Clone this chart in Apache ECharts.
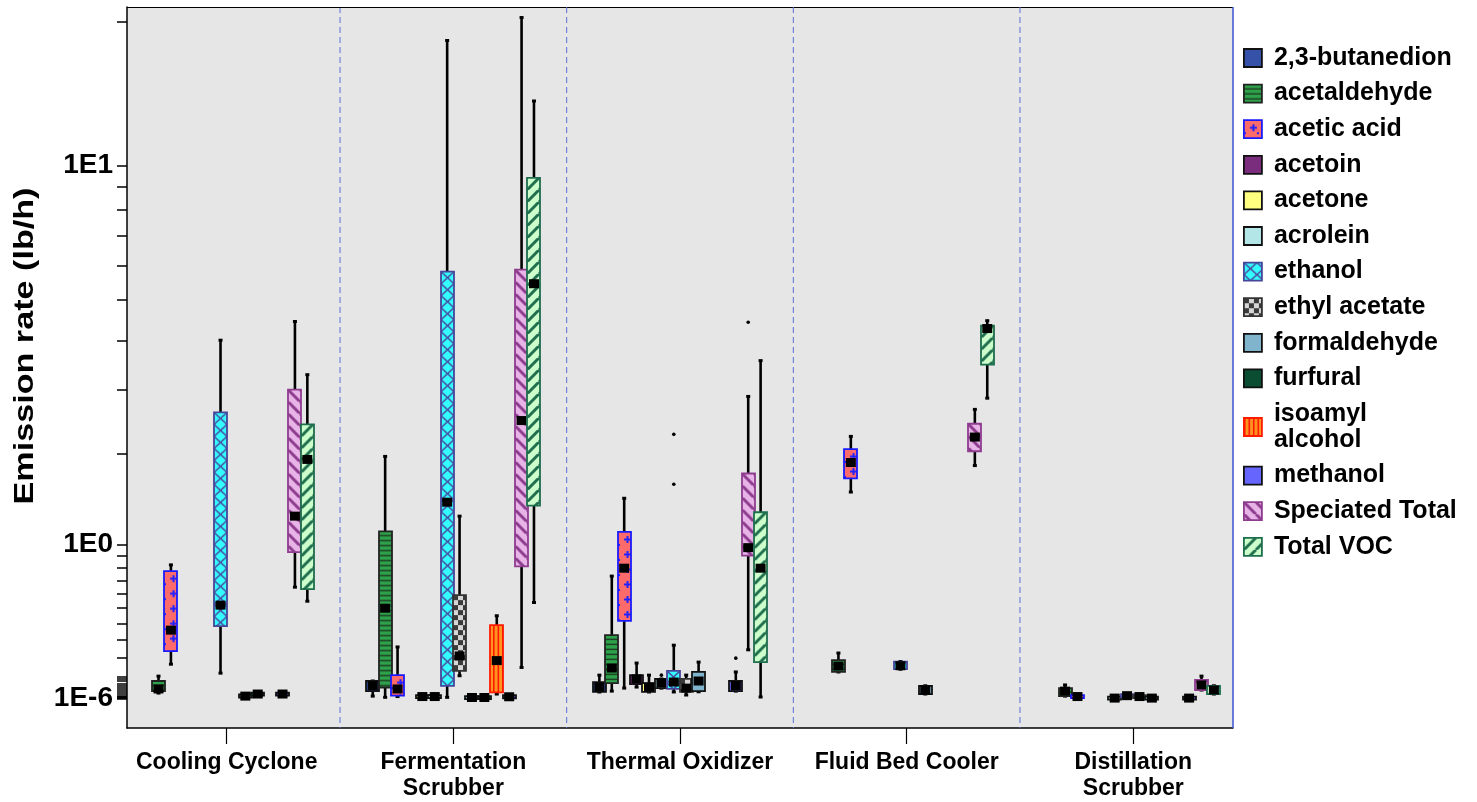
<!DOCTYPE html>
<html>
<head>
<meta charset="utf-8">
<script src="https://cdn.jsdelivr.net/npm/echarts@6/dist/echarts.min.js"></script>
<style>
html, body { margin: 0; padding: 0; background: #fff; }
#chart { width: 1477px; height: 802px; }
</style>
</head>
<body>
<div id="chart"></div>
<script>
const sources = ['Cooling Cyclone', 'Fermentation\nScrubber', 'Thermal Oxidizer', 'Fluid Bed Cooler', 'Distillation\nScrubber'];
const compounds = ['2,3-butanedion', 'acetaldehyde', 'acetic acid', 'acetoin', 'acetone', 'acrolein', 'ethanol',
    'ethyl acetate', 'formaldehyde', 'furfural', 'isoamyl alcohol', 'methanol', 'Speciated Total', 'Total VOC'];

// rows: [source index, min, q1, marker, q3, max]  (lb/h)
const butanedion = [[1, 0.010, 0.033, 0.058, 0.081, 0.081], [2, 0.029, 0.029, 0.052, 0.076, 0.110]];
const acetaldehyde = [[0, 0.024, 0.033, 0.043, 0.081, 0.105], [1, 0.0045, 0.050, 0.50, 1.12, 1.97],
    [2, 0.033, 0.071, 0.146, 0.329, 0.733], [3, 0.126, 0.126, 0.156, 0.188, 0.226], [4, 0.010, 0.010, 0.033, 0.047, 0.062]];
const aceticAcid = [[0, 0.166, 0.237, 0.359, 0.772, 0.823], [1, 0.008, 0.012, 0.043, 0.110, 0.26],
    [2, 0.047, 0.417, 0.796, 1.114, 1.46], [3, 1.53, 1.69, 1.89, 2.07, 2.25], [4, 0.005, 0.006, 0.008, 0.010, 0.012]];
const acetoin = [[2, 0.052, 0.066, 0.091, 0.110, 0.172]];
const acetone = [[1, 0.004, 0.006, 0.008, 0.010, 0.012], [2, 0.029, 0.029, 0.052, 0.071, 0.110]];
const acrolein = [[1, 0.004, 0.006, 0.008, 0.010, 0.012], [2, 0.047, 0.047, 0.071, 0.091, 0.091],
    [4, 0.0005, 0.0008, 0.001, 0.0012, 0.0015]];
const ethanol = [[0, 0.12, 0.384, 0.521, 2.62, 4.01], [1, 0.0045, 0.058, 1.417, 5.82, 18.3],
    [2, 0.029, 0.043, 0.076, 0.131, 0.27], [3, 0.14, 0.14, 0.158, 0.18, 0.18], [4, 0.010, 0.011, 0.012, 0.013, 0.014]];
const ethylAcetate = [[1, 0.107, 0.131, 0.21, 0.591, 1.27], [2, 0.015, 0.029, 0.047, 0.091, 0.110],
    [4, 0.006, 0.007, 0.008, 0.009, 0.010]];
const formaldehyde = [[0, 0.005, 0.008, 0.010, 0.013, 0.016], [1, 0.002, 0.003, 0.0036, 0.004, 0.005],
    [2, 0.030, 0.033, 0.081, 0.126, 0.177], [3, 0.0195, 0.0195, 0.038, 0.058, 0.058], [4, 0.0005, 0.0008, 0.001, 0.0012, 0.0015]];
const furfural = [[0, 0.015, 0.017, 0.0195, 0.022, 0.024], [1, 0.002, 0.003, 0.0036, 0.004, 0.005]];
const isoamylAlcohol = [[1, 0.0195, 0.027, 0.185, 0.39, 0.45]];
const methanol = [[0, 0.015, 0.017, 0.0195, 0.022, 0.024], [1, 0.005, 0.006, 0.007, 0.008, 0.009],
    [2, 0.033, 0.033, 0.058, 0.081, 0.126], [4, 0.0005, 0.0008, 0.001, 0.0012, 0.0015]];
const speciatedTotal = [[0, 0.649, 0.93, 1.27, 3.01, 4.45], [1, 0.149, 0.81, 2.49, 5.88, 20.4],
    [2, 0.244, 0.90, 0.97, 1.75, 2.89], [3, 1.85, 2.04, 2.24, 2.44, 2.67], [4, 0.038, 0.038, 0.062, 0.086, 0.105]];
const totalVOC = [[0, 0.548, 0.634, 1.93, 2.43, 3.29], [1, 0.539, 1.38, 5.46, 9.40, 13.7],
    [2, 0.006, 0.177, 0.796, 1.31, 3.57], [3, 2.86, 3.49, 4.28, 4.35, 4.47], [4, 0.0195, 0.0195, 0.038, 0.058, 0.058]];

// outliers: [compound index, source index, value]
const outliers = [[6, 2, 1.62], [6, 2, 2.28], [5, 2, 0.110], [11, 2, 0.198], [12, 2, 4.43]];

const boxData = [butanedion, acetaldehyde, aceticAcid, acetoin, acetone, acrolein, ethanol,
    ethylAcetate, formaldehyde, furfural, isoamylAlcohol, methanol, speciatedTotal, totalVOC];

const yLabelValues = [1e-6, 1, 10];
const yLabelTexts = ['1E-6', '1E0', '1E1'];
const yTickValues = [20, 10, 9, 8, 7, 6, 5, 4, 3, 2, 1, 0.9, 0.8, 0.7, 0.6, 0.5, 0.4, 0.3, 0.2, 0.1,
    0.09, 0.08, 0.07, 0.06, 0.05, 0.04, 0.03, 0.02, 0.01, 0.008, 0.006, 0.004, 0.002, 0.001, 0.0005, 0.0001, 1e-6];
const dividerAt = [0.5, 1.5, 2.5, 3.5];

// the axis is log10(v + 1)
const tr = v => Math.log10(v + 1);
const FONT = "'Liberation Sans', Arial, sans-serif";
const SLOT = 12.4 / 226.6;
const BOXW = 13;

function tile(w, h, draw) {
    const c = document.createElement('canvas');
    c.width = w; c.height = h;
    draw(c.getContext('2d'), w, h);
    return c;
}
function diag(bg, fg, dir) {
    return tile(12, 12, (g, w, h) => {
        g.fillStyle = bg; g.fillRect(0, 0, w, h);
        g.strokeStyle = fg; g.lineWidth = 3;
        for (let k = -1; k <= 1; k++) {
            g.beginPath();
            if (dir > 0) { g.moveTo(k * 12, 12); g.lineTo(k * 12 + 12, 0); }
            else { g.moveTo(k * 12, 0); g.lineTo(k * 12 + 12, 12); }
            g.stroke();
        }
    });
}
const tiles = [
    null,
    tile(8, 5, (g) => { g.fillStyle = '#2ea24a'; g.fillRect(0, 0, 8, 5); g.fillStyle = '#1d3b22'; g.fillRect(0, 3.6, 8, 1.4); }),
    tile(13, 15, (g) => {
        g.fillStyle = '#ff6a6a'; g.fillRect(0, 0, 13, 15);
        g.fillStyle = '#2222ff'; g.fillRect(6, 6.5, 7, 2); g.fillRect(8.5, 4, 2, 7); g.fillRect(0, 12, 2, 2);
    }),
    null, null, null,
    tile(13, 12, (g) => {
        g.fillStyle = '#33ffff'; g.fillRect(0, 0, 13, 12);
        g.strokeStyle = '#4a4aa0'; g.lineWidth = 1.5;
        g.beginPath(); g.moveTo(0, 0); g.lineTo(13, 12); g.moveTo(13, 0); g.lineTo(0, 12); g.stroke();
    }),
    tile(10, 10, (g) => {
        g.fillStyle = '#d6d6d6'; g.fillRect(0, 0, 10, 10);
        g.fillStyle = '#3a3a3a'; g.fillRect(0, 0, 5, 5); g.fillRect(5, 5, 5, 5);
    }),
    null, null,
    tile(9, 4, (g) => {
        g.fillStyle = '#ff9420'; g.fillRect(0, 0, 9, 4);
        g.fillStyle = '#ff1a00'; g.fillRect(0, 0, 1.6, 4); g.fillRect(4.5, 0, 1.6, 4);
    }),
    null,
    diag('#e8b4e8', '#8e3c8e', -1),
    diag('#ccffcc', '#1f6e4e', 1)
];
const solids = ['#3552a8', null, null, '#7a2d7d', '#ffff80', '#b3e6e6', null, null, '#80b3cc', '#0b4d33', null, '#6666ff', null, null];
const borders = ['#111', '#222', '#1a1aff', '#111', '#111', '#111', '#45459a', '#333', '#111', '#111', '#ff1a00', '#111', '#8e3c8e', '#1f6e4e'];

function fillFor(i, x, y) {
    if (solids[i]) return solids[i];
    return { image: tiles[i], repeat: 'repeat', x: x || 0, y: y || 0 };
}

function renderBox(i) {
    return function (params, api) {
        const x = api.value(0) + (i - 6.5) * SLOT;
        const pMin = api.coord([x, api.value(1)]);
        const pQ1 = api.coord([x, api.value(2)]);
        const pMed = api.coord([x, api.value(3)]);
        const pQ3 = api.coord([x, api.value(4)]);
        const pMax = api.coord([x, api.value(5)]);
        const cx = pMed[0];
        const left = Math.round(cx - BOXW / 2);
        let top = pQ3[1], h = pQ1[1] - pQ3[1];
        if (h < 3) { top -= (3 - h) / 2; h = 3; }
        return {
            type: 'group',
            children: [
                { type: 'line', shape: { x1: cx, y1: pMax[1], x2: cx, y2: pMin[1] }, style: { stroke: '#000', lineWidth: 2.6 } },
                { type: 'rect', shape: { x: cx - 2, y: pMax[1] - 1.5, width: 4, height: 3 }, style: { fill: '#000' } },
                { type: 'rect', shape: { x: cx - 2, y: pMin[1] - 1.5, width: 4, height: 3 }, style: { fill: '#000' } },
                { type: 'rect', shape: { x: left, y: top, width: BOXW, height: h },
                  style: { fill: fillFor(i, left + (i === 10 ? 3 : 0), top), stroke: borders[i], lineWidth: 1.8 } },
                { type: 'rect', shape: { x: cx - 5, y: pMed[1] - 4.5, width: 10, height: 9 }, style: { fill: '#000' } }
            ]
        };
    };
}

const boxSeries = compounds.map((name, i) => ({
    name: name,
    type: 'custom',
    renderItem: renderBox(i),
    itemStyle: { color: fillFor(i), borderColor: borders[i], borderWidth: 1.8 },
    encode: { x: 0, y: [1, 2, 3, 4, 5] },
    data: boxData[i].map(r => [r[0], tr(r[1]), tr(r[2]), tr(r[3]), tr(r[4]), tr(r[5])]),
    z: 3
}));

const chart = echarts.init(document.getElementById('chart'), null, { renderer: 'canvas' });
chart.setOption({
    animation: false,
    textStyle: { fontFamily: FONT },
    grid: { left: 127, right: 244, top: 7, bottom: 73, show: true, backgroundColor: '#e6e6e6', borderWidth: 0 },
    legend: {
        left: 1238, top: 40, orient: 'vertical', selectedMode: false,
        itemWidth: 18, itemHeight: 18, itemGap: 9.6,
        icon: 'rect',
        itemStyle: { borderWidth: 1.8 },
        formatter: n => n === 'isoamyl alcohol' ? 'isoamyl\nalcohol' : n,
        textStyle: { fontFamily: FONT, fontWeight: 'bold', fontSize: 25, lineHeight: 26, color: '#000', padding: [0, 0, 0, 7] },
        data: compounds
    },
    graphic: [{
        type: 'text', x: 25, y: 346, rotation: Math.PI / 2, scaleX: 1.22,
        style: { text: 'Emission rate (lb/h)', font: 'bold 28px ' + FONT, fill: '#000', align: 'center', verticalAlign: 'middle' }
    }],
    xAxis: {
        type: 'value', min: -0.44, max: 4.44,
        splitLine: { show: false },
        axisLine: { onZero: false, lineStyle: { color: '#000', width: 1.5 } },
        axisTick: { customValues: [0, 1, 2, 3, 4], length: 16, lineStyle: { color: '#000', width: 1.2 } },
        axisLabel: {
            customValues: [0, 1, 2, 3, 4], margin: 22,
            formatter: v => sources[Math.round(v)],
            fontFamily: FONT, fontWeight: 'bold', fontSize: 23, lineHeight: 26, color: '#000'
        }
    },
    yAxis: {
        type: 'value', min: -0.058, max: 1.351,
        splitLine: { show: false },
        axisLine: { show: true, onZero: false, lineStyle: { color: '#000', width: 1.5 } },
        axisTick: { customValues: yTickValues.map(tr), length: 10, lineStyle: { color: '#000', width: 1.5 } },
        axisLabel: {
            customValues: yLabelValues.map(tr), margin: 14,
            formatter: t => {
                let best = 0;
                yLabelValues.forEach((v, k) => { if (Math.abs(tr(v) - t) < Math.abs(tr(yLabelValues[best]) - t)) best = k; });
                return yLabelTexts[best];
            },
            fontFamily: FONT, fontWeight: 'bold', fontSize: 28, color: '#000'
        }
    },
    series: [
        {
            type: 'custom', name: 'dividers', silent: true, z: 1,
            encode: { x: 0 },
            data: dividerAt.map(x => [x]),
            renderItem: (params, api) => {
                const cs = params.coordSys;
                const p = api.coord([api.value(0), 0]);
                const kids = [{ type: 'line', shape: { x1: p[0], y1: cs.y, x2: p[0], y2: cs.y + cs.height },
                    style: { stroke: '#5a6fd8', lineWidth: 1, lineDash: [6, 4] } }];
                if (params.dataIndex === 0) {
                    kids.push({ type: 'line', shape: { x1: cs.x, y1: cs.y + 0.5, x2: cs.x + cs.width, y2: cs.y + 0.5 }, style: { stroke: '#000', lineWidth: 1.2 } });
                    kids.push({ type: 'line', shape: { x1: cs.x + cs.width, y1: cs.y, x2: cs.x + cs.width, y2: cs.y + cs.height }, style: { stroke: '#3b55d0', lineWidth: 1.5 } });
                }
                return { type: 'group', children: kids };
            }
        },
        ...boxSeries,
        {
            type: 'custom', name: 'outliers', z: 4,
            encode: { x: 1, y: 2 },
            data: outliers.map(r => [r[0], r[1], tr(r[2])]),
            renderItem: (params, api) => {
                const p = api.coord([api.value(1) + (api.value(0) - 6.5) * SLOT, api.value(2)]);
                return { type: 'circle', shape: { cx: p[0], cy: p[1], r: 1.8 }, style: { fill: '#000' } };
            }
        }
    ]
});
</script>
</body>
</html>
